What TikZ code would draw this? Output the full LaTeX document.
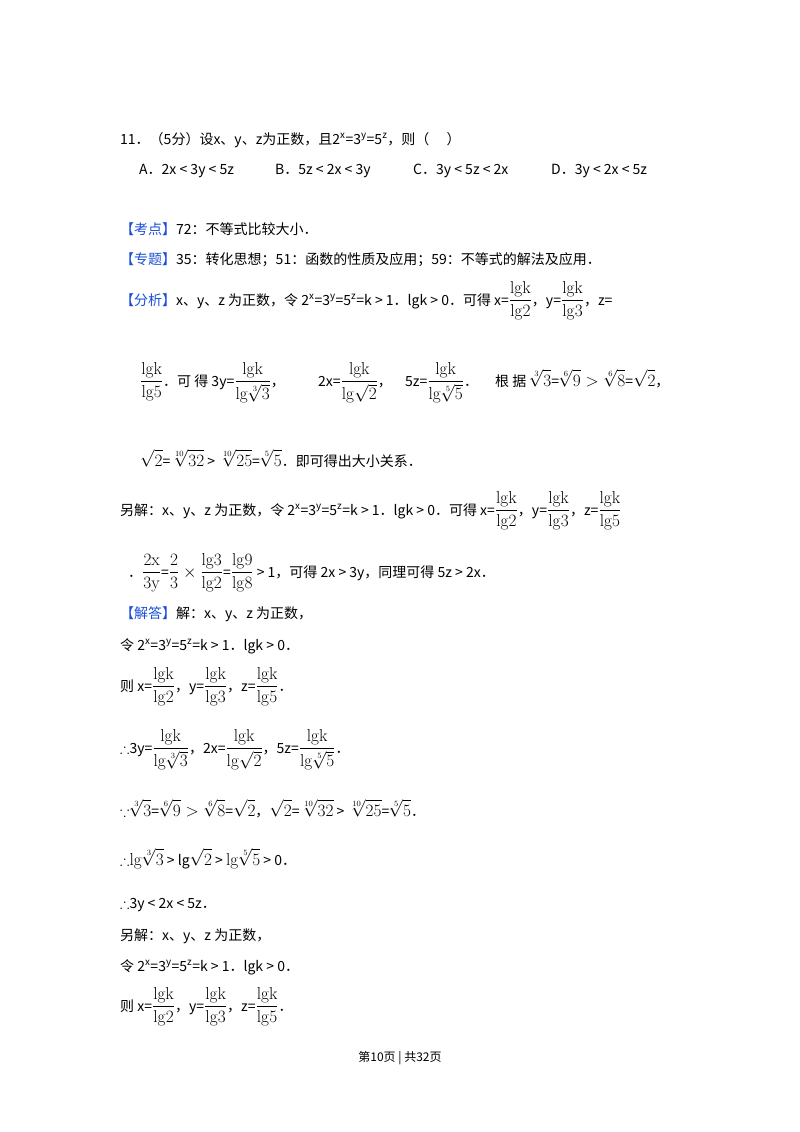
\documentclass[tikz,border=0pt]{standalone}
\usepackage{amsmath,amssymb}
\usepackage[no-math]{fontspec}
\setmainfont{Noto Sans CJK SC}
\definecolor{hb}{HTML}{1A4FD6}
\newcommand\mf[1]{{\fontsize{16.5}{19}\selectfont$\displaystyle #1$}}
\newcommand\lgf[1]{\mf{\frac{\mathrm{lgk}}{\mathrm{lg}#1}}}
\newcommand\tg[1]{{\color{hb}【#1】}}
\newcommand\sps[1]{\textsuperscript{#1}}
\begin{document}
\begin{tikzpicture}[x=1pt,y=-1pt,
  txt/.style={anchor=base west,inner sep=0pt,font=\fontsize{14}{16}\selectfont}]
\useasboundingbox[fill=white] (0,0) rectangle (800,1132);
\node[txt] (l1) at (120,144) {11．（5分）设x、y、z为正数，且2\sps{x}=3\sps{y}=5\sps{z}，则（\quad\ ）};
\node[txt] (oa) at (139,174) {A．2x < 3y < 5z};
\node[txt] (ob) at (275,174) {B．5z < 2x < 3y};
\node[txt] (oc) at (413,174) {C．3y < 5z < 2x};
\node[txt] (od) at (551,174) {D．3y < 2x < 5z};
\node[txt] (kd) at (120,234) {\tg{考点}72：不等式比较大小．};
\node[txt] (zt) at (120,264) {\tg{专题}35：转化思想；51：函数的性质及应用；59：不等式的解法及应用．};
\node[txt] (fx) at (120,305) {\tg{分析}x、y、z 为正数，令 2\sps{x}=3\sps{y}=5\sps{z}=k > 1．lgk > 0．可得 x=\lgf{2}，y=\lgf{3}，z=};
\node[txt] (f2a) at (140,386) {\lgf{5}．可 得 3y=\lgf{\sqrt[3]{3}}，};
\node[txt] (f2b) at (318,386) {2x=\lgf{\sqrt{2}}，};
\node[txt] (f2c) at (405,386) {5z=\lgf{\sqrt[5]{5}}．};
\node[txt] (f2d) at (495,386) {根 据 \mf{\sqrt[3]{3}}=\mf{\sqrt[6]{9}>\sqrt[6]{8}}=\mf{\sqrt{2}}，};
\node[txt] (f3) at (140,466) {\mf{\sqrt{2}}=\mf{\sqrt[10]{32}} > \mf{\sqrt[10]{25}}=\mf{\sqrt[5]{5}}．即可得出大小关系．};
\node[txt] (lj) at (120,515) {另解：x、y、z 为正数，令 2\sps{x}=3\sps{y}=5\sps{z}=k > 1．lgk > 0．可得 x=\lgf{2}，y=\lgf{3}，z=\lgf{5}};
\node[txt] (lj2) at (128,577) {．\mf{\frac{2\mathrm{x}}{3\mathrm{y}}}=\mf{\frac{2}{3}\times\frac{\mathrm{lg}3}{\mathrm{lg}2}}=\mf{\frac{\mathrm{lg}9}{\mathrm{lg}8}} > 1，可得 2x > 3y，同理可得 5z > 2x．};
\node[txt] (jd) at (120,618) {\tg{解答}解：x、y、z 为正数，};
\node[txt] (j1) at (120,650) {令 2\sps{x}=3\sps{y}=5\sps{z}=k > 1．lgk > 0．};
\node[txt] (j2) at (120,691) {则 x=\lgf{2}，y=\lgf{3}，z=\lgf{5}．};
\node[txt] (j3) at (120,753) {$\therefore$3y=\lgf{\sqrt[3]{3}}，2x=\lgf{\sqrt{2}}，5z=\lgf{\sqrt[5]{5}}．};
\node[txt] (j4) at (120,816) {$\because$\mf{\sqrt[3]{3}}=\mf{\sqrt[6]{9}>\sqrt[6]{8}}=\mf{\sqrt{2}}，\mf{\sqrt{2}}=\mf{\sqrt[10]{32}} > \mf{\sqrt[10]{25}}=\mf{\sqrt[5]{5}}．};
\node[txt] (j5) at (120,865) {$\therefore$\mf{\mathrm{lg}\sqrt[3]{3}} > lg\mf{\sqrt{2}} > \mf{\mathrm{lg}\sqrt[5]{5}} > 0．};
\node[txt] (j6) at (120,908) {$\therefore$3y < 2x < 5z．};
\node[txt] (j7) at (120,940) {另解：x、y、z 为正数，};
\node[txt] (j8) at (120,971) {令 2\sps{x}=3\sps{y}=5\sps{z}=k > 1．lgk > 0．};
\node[txt] (j9) at (120,1011) {则 x=\lgf{2}，y=\lgf{3}，z=\lgf{5}．};
\node[anchor=base,inner sep=0pt,font=\fontsize{12}{14}\selectfont] (ft) at (400,1061) {第10页 | 共32页};
\end{tikzpicture}
\end{document}
